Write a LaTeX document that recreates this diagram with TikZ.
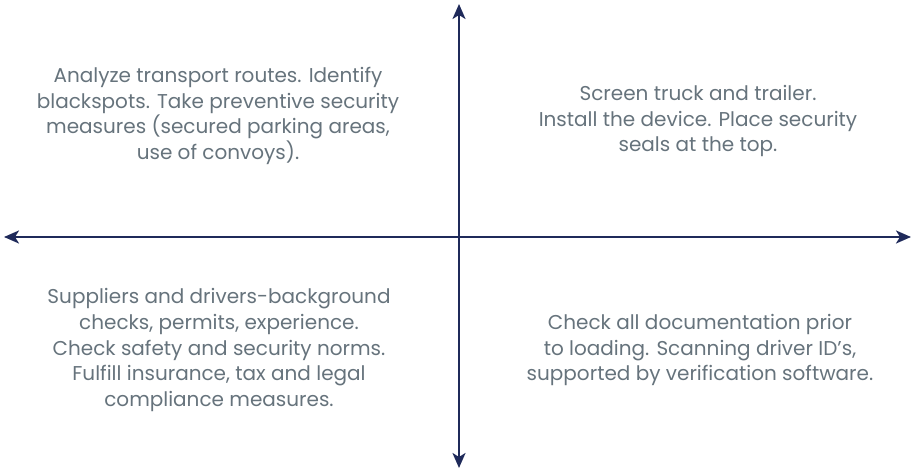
\documentclass[tikz,border=0pt]{standalone}
\usepackage{fontspec}
\setmainfont{Poppins}
\usetikzlibrary{arrows.meta}
\definecolor{axisblue}{HTML}{1F2A5A}
\definecolor{textgray}{HTML}{66737C}
\tikzset{
  axis/.style={draw=axisblue, line width=2.4pt, {Stealth[length=15pt,width=13pt,inset=4pt]}-{Stealth[length=15pt,width=13pt,inset=4pt]}},
  quadtext/.style={align=center, text=textgray, font=\fontsize{20}{25.6}\selectfont, inner sep=0pt}
}
\begin{document}
\begin{tikzpicture}[x=1pt,y=-1pt]
\useasboundingbox (0,0) rectangle (913,470);
\coordinate (top) at (459,4);
\coordinate (bottom) at (459,468);
\coordinate (left) at (4,237);
\coordinate (right) at (911,237);

\draw[axis] (bottom) -- (top);
\draw[axis] (left) -- (right);

\node[quadtext] (tl) at (218,116) {Analyze transport routes. Identify\\blackspots. Take preventive security\\measures (secured parking areas,\\use of convoys).};
\node[quadtext] (tr) at (698,121) {Screen truck and trailer.\\Install the device. Place security\\seals at the top.};
\node[quadtext] (bl) at (219,350) {Suppliers and drivers-background\\checks, permits, experience.\\Check safety and security norms.\\Fulfill insurance, tax and legal\\compliance measures.};
\node[quadtext] (br) at (700,350) {Check all documentation prior\\to loading. Scanning driver ID’s,\\supported by verification software.};
\end{tikzpicture}
\end{document}
